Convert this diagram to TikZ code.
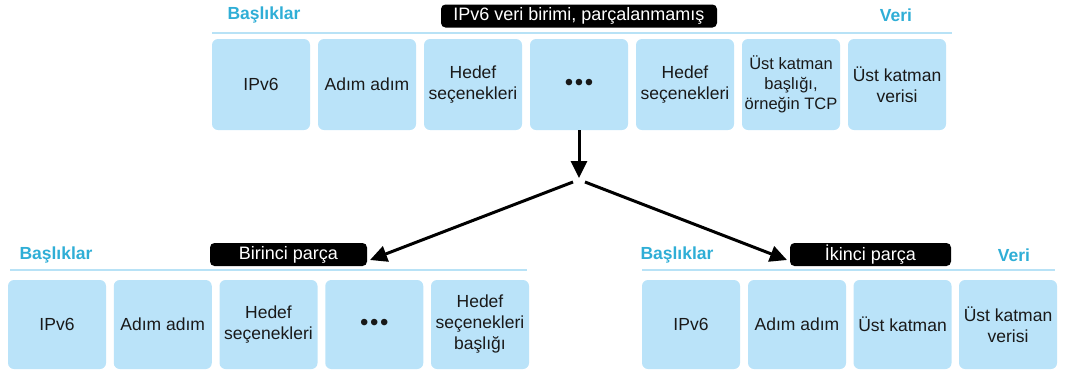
\documentclass[tikz,border=0pt]{standalone}
\usepackage{fontspec}
\setmainfont{Liberation Sans}
\usetikzlibrary{arrows.meta}
\definecolor{boxblue}{RGB}{186,227,249}
\definecolor{lineblue}{RGB}{184,226,246}
\definecolor{headcyan}{RGB}{47,174,214}
\tikzset{
 cell/.style={fill=boxblue, rounded corners=6pt, minimum width=98pt, inner sep=0pt, align=center, font=\fontsize{17.5}{21}\selectfont, text=black!90},
 topcell/.style={cell, minimum height=91pt},
 botcell/.style={cell, minimum height=89pt},
 tag/.style={fill=black, rounded corners=4.5pt, text=white, inner sep=0pt, minimum height=23pt, font=\fontsize{18}{21}\selectfont},
 head/.style={text=headcyan, font=\bfseries\fontsize{17.5}{21}\selectfont, inner sep=0pt},
 rule/.style={draw=lineblue, line width=2pt},
 arr/.style={draw=black, line width=3pt, -{Triangle[length=17pt,width=16pt]}},
}
\newcommand{\dotsrow}{{\fontsize{24}{24}\selectfont •\hspace{1.6pt}•\hspace{1.6pt}•}}
\begin{document}
\begin{tikzpicture}[x=1pt,y=-1pt]
\useasboundingbox (0,0) rectangle (1069,373);
% ---------- top ----------
\node[head] (th) at (264,15) {Başlıklar};
\node[head] (tv) at (896,15) {Veri};
\node[tag, minimum width=276pt] (tl) at (579,16) {IPv6 veri birimi, parçalanmamış};
\coordinate (tr1) at (212,33);
\coordinate (tr2) at (952,33);
\draw[rule] (tr1) -- (tr2);
\node[topcell] (t1) at (261,84.5) {IPv6};
\node[topcell] (t2) at (367,84.5) {Adım adım};
\node[topcell] (t3) at (473,84.5) {Hedef\\seçenekleri};
\node[topcell] (t4) at (579,84.5) {\dotsrow};
\node[topcell] (t5) at (685,84.5) {Hedef\\seçenekleri};
\node[topcell, font=\fontsize{16.5}{20}\selectfont] (t6) at (791,84.5) {Üst katman\\başlığı,\\örneğin TCP};
\node[topcell] (t7) at (897,84.5) {Üst katman\\verisi};
% ---------- arrows ----------
\coordinate (j) at (579,178);
\coordinate (jl) at (573,182);
\coordinate (jr) at (585,182);
\coordinate (al) at (370,260);
\coordinate (ar) at (787,260);
\draw[arr] (t4.south) -- (j);
\draw[arr] (jl) -- (al);
\draw[arr] (jr) -- (ar);
% ---------- bottom left ----------
\node[head] (lh) at (56,255) {Başlıklar};
\node[tag, minimum width=157pt] (ll) at (288.5,254.5) {Birinci parça};
\coordinate (lr1) at (10,270);
\coordinate (lr2) at (527,270);
\draw[rule] (lr1) -- (lr2);
\node[botcell] (l1) at (57,324.5) {IPv6};
\node[botcell] (l2) at (162.75,324.5) {Adım adım};
\node[botcell] (l3) at (268.5,324.5) {Hedef\\seçenekleri};
\node[botcell] (l4) at (374.25,324.5) {\dotsrow};
\node[botcell] (l5) at (480,324.5) {Hedef\\seçenekleri\\başlığı};
% ---------- bottom right ----------
\node[head] (rh) at (677,255) {Başlıklar};
\node[head] (rv) at (1014,255) {Veri};
\node[tag, minimum width=161pt] (rl) at (870.5,254.5) {İkinci parça};
\coordinate (rr1) at (642,270);
\coordinate (rr2) at (1055,270);
\draw[rule] (rr1) -- (rr2);
\node[botcell] (r1) at (691,324.5) {IPv6};
\node[botcell] (r2) at (797,324.5) {Adım adım};
\node[botcell] (r3) at (902.5,324.5) {Üst katman};
\node[botcell] (r4) at (1008,324.5) {Üst katman\\verisi};
\end{tikzpicture}
\end{document}
